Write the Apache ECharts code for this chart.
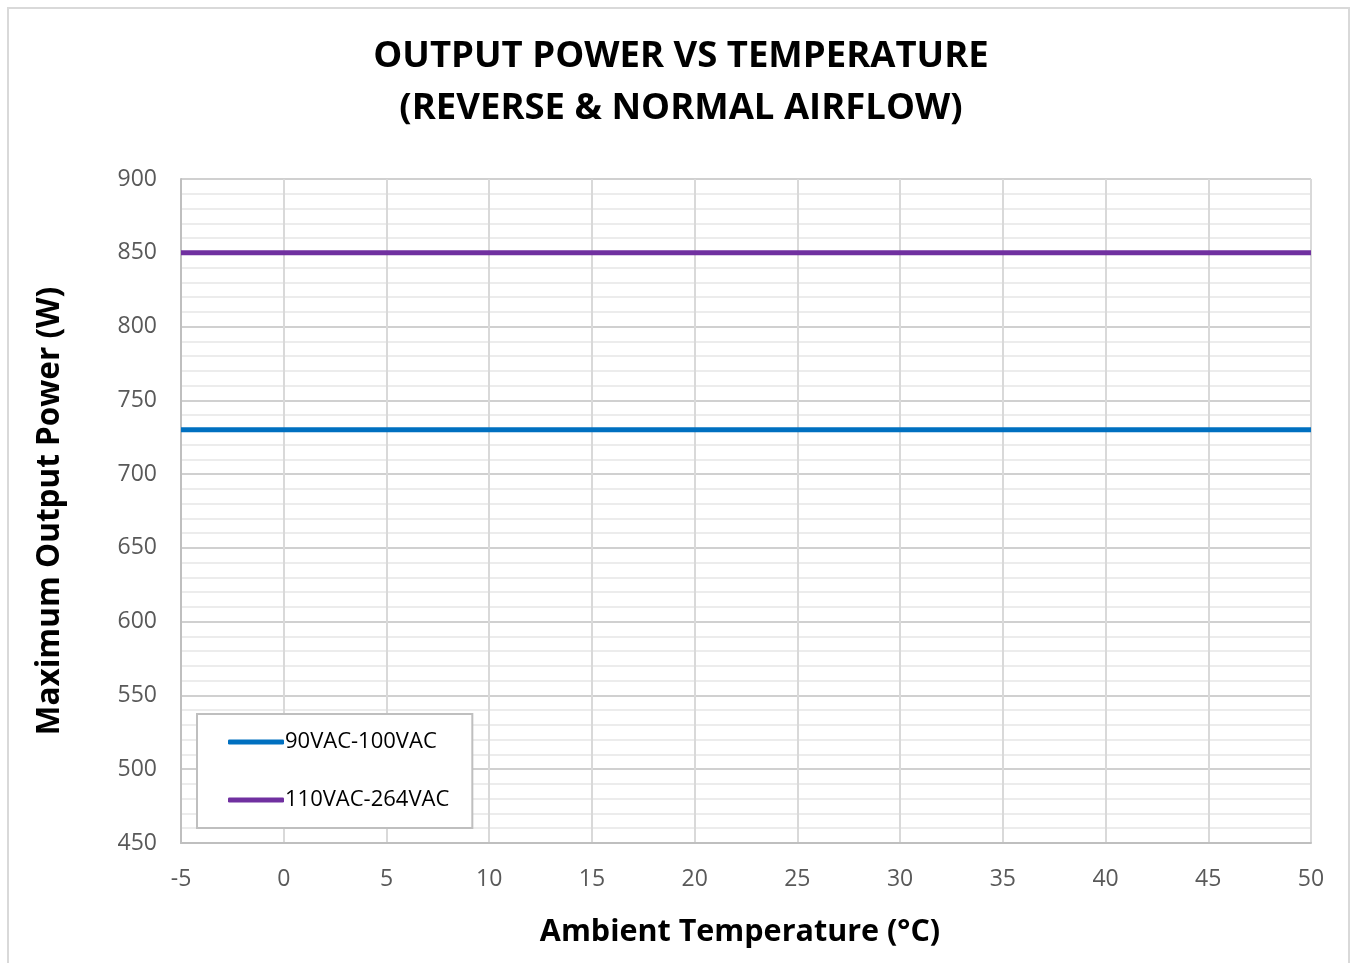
<!DOCTYPE html>
<html>
<head>
<meta charset="utf-8">
<style>
html,body{margin:0;padding:0;background:#fff;}
#chart{width:1351px;height:963px;}
</style>
<script src="https://cdn.jsdelivr.net/npm/echarts@6/dist/echarts.min.js"></script>
</head>
<body>
<div id="chart"></div>
<script>
var temps = [-5, 50];
var seriesNames = ['90VAC-100VAC', '110VAC-264VAC'];
var lowLine = [730, 730];
var highLine = [850, 850];
var colors = ['#0070C0', '#7030A0'];

var myChart = echarts.init(document.getElementById('chart'));
var font = '"Open Sans", "Noto Sans", sans-serif';

function pairs(vals){
    return temps.map(function(t, i){ return [t, vals[i]]; });
}

var option = {
    backgroundColor: '#fff',
    animation: false,
    textStyle: { fontFamily: font },
    title: {
        text: 'OUTPUT POWER VS TEMPERATURE\n(REVERSE & NORMAL AIRFLOW)',
        left: 676,
        top: 26,
        textAlign: 'center',
        textStyle: {
            fontSize: 36.5,
            fontWeight: 'bold',
            color: '#000',
            lineHeight: 52,
            fontFamily: font
        }
    },
    graphic: [{
        type: 'rect',
        shape: { x: 8, y: 8, width: 1341, height: 970 },
        style: { fill: 'none', stroke: '#d9d9d9', lineWidth: 2 },
        silent: true
    }],
    legend: {
        orient: 'vertical',
        left: 197,
        top: 714,
        padding: [17, 23, 17, 31],
        itemGap: 36,
        itemWidth: 56,
        itemHeight: 5,
        icon: 'roundRect',
        borderColor: '#bfbfbf',
        borderWidth: 2,
        backgroundColor: '#fff',
        data: seriesNames,
        textStyle: { fontSize: 22, color: '#000', padding: [0, 0, 0, -4], fontFamily: font }
    },
    grid: { left: 181, right: 40, top: 179, bottom: 120 },
    xAxis: {
        type: 'value',
        min: -5,
        max: 50,
        interval: 5,
        name: 'Ambient Temperature (°C)',
        nameLocation: 'middle',
        nameGap: 74,
        nameTextStyle: { fontSize: 30.5, fontWeight: 'bold', color: '#000', fontFamily: font, padding: [0, 12, 0, 0] },
        axisLine: { show: true, onZero: false, lineStyle: { color: '#bfbfbf', width: 2 } },
        axisTick: { show: false },
        axisLabel: { fontSize: 23, color: '#595959', margin: 25 },
        splitLine: { show: true, lineStyle: { color: '#d9d9d9', width: 2 } }
    },
    yAxis: {
        type: 'value',
        min: 450,
        max: 900,
        interval: 50,
        name: 'Maximum Output Power (W)',
        nameLocation: 'middle',
        nameGap: 115,
        nameTextStyle: { fontSize: 31.5, fontWeight: 'bold', color: '#000', fontFamily: font },
        axisLine: { show: true, onZero: false, lineStyle: { color: '#bfbfbf', width: 2 } },
        axisTick: { show: false },
        axisLabel: { fontSize: 23, color: '#595959', margin: 24 },
        splitLine: { show: true, lineStyle: { color: '#d0d0d0', width: 2 } },
        minorTick: { show: false, splitNumber: 5 },
        minorSplitLine: { show: true, lineStyle: { color: '#e6e6e6', width: 1.5 } }
    },
    series: [{
        name: seriesNames[0],
        type: 'line',
        data: pairs(lowLine),
        symbol: 'none',
        lineStyle: { color: colors[0], width: 5 },
        itemStyle: { color: colors[0] }
    }, {
        name: seriesNames[1],
        type: 'line',
        data: pairs(highLine),
        symbol: 'none',
        lineStyle: { color: colors[1], width: 5 },
        itemStyle: { color: colors[1] }
    }]
};

myChart.setOption(option);
</script>
</body>
</html>
